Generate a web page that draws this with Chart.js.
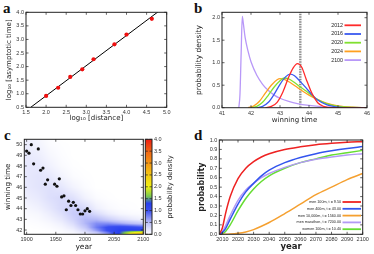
<!DOCTYPE html>
<html>
<head>
<meta charset="utf-8">
<script src="https://cdn.jsdelivr.net/npm/chart.js@4.4.1/dist/chart.umd.min.js"></script>
<style>
body { margin: 0; background: #fff; width: 374px; height: 254px; position: relative; overflow: hidden; }
canvas { position: absolute; }
.lab { position: absolute; font: bold 15px "Liberation Serif", serif; line-height: 1; color: #111; }
</style>
</head>
<body>
<div class="lab" style="left:3px;top:1px">a</div>
<div class="lab" style="left:194px;top:1px">b</div>
<div class="lab" style="left:4px;top:128px">c</div>
<div class="lab" style="left:194px;top:128px">d</div>
<canvas id="chartA" width="187" height="127" style="left:0;top:0"></canvas>
<canvas id="chartB" width="187" height="127" style="left:187px;top:0"></canvas>
<canvas id="chartC" width="187" height="127" style="left:0;top:127px"></canvas>
<canvas id="chartBar" width="47" height="127" style="left:140px;top:127px"></canvas>
<canvas id="chartD" width="187" height="127" style="left:187px;top:127px"></canvas>
<script>
// ---- panel a: asymptotic time vs distance
const logDistance = [2.0, 2.3, 2.6, 2.9, 3.18, 3.7, 4.0, 4.63];
const logAsymTime = [0.92, 1.22, 1.62, 1.9, 2.27, 2.82, 3.18, 3.76];
const fitX = [1.6, 4.85];
const fitY = [0.48, 4.09];
const aTicksX = [1.5, 2.0, 2.5, 3.0, 3.5, 4.0, 4.5, 5.0];
const aTicksY = [0.5, 1.0, 1.5, 2.0, 2.5, 3.0, 3.5, 4.0];

// ---- panel b: winning time densities
const bLabels = ['2012', '2016', '2020', '2024', '2100'];
const b2012Time = [42.5, 42.7, 42.9, 43.1, 43.3, 43.45, 43.6, 43.75, 43.9, 44.1, 44.3, 44.5, 44.8, 46.0];
const b2012Dens = [0, 0.03, 0.12, 0.35, 0.68, 0.88, 0.98, 0.9, 0.64, 0.32, 0.11, 0.03, 0, 0];
const b2016Time = [42.2, 42.4, 42.6, 42.8, 43.0, 43.2, 43.35, 43.5, 43.7, 43.9, 44.1, 44.3, 44.6, 45.0, 45.4, 46.0];
const b2016Dens = [0, 0.03, 0.12, 0.3, 0.52, 0.69, 0.745, 0.71, 0.58, 0.44, 0.29, 0.17, 0.07, 0.015, 0, 0];
const b2020Time = [42.0, 42.2, 42.4, 42.6, 42.8, 43.0, 43.15, 43.3, 43.5, 43.7, 43.9, 44.1, 44.3, 44.6, 45.0, 45.5, 46.0];
const b2020Dens = [0, 0.03, 0.12, 0.28, 0.46, 0.6, 0.66, 0.64, 0.56, 0.46, 0.37, 0.27, 0.18, 0.09, 0.03, 0.005, 0];
const b2024Time = [41.9, 42.1, 42.3, 42.5, 42.7, 42.9, 43.0, 43.15, 43.35, 43.6, 43.8, 44.0, 44.3, 44.6, 45.0, 45.5, 46.0];
const b2024Dens = [0, 0.04, 0.15, 0.33, 0.5, 0.62, 0.645, 0.63, 0.56, 0.45, 0.36, 0.28, 0.18, 0.1, 0.04, 0.01, 0];
const b2100Time = [41.58, 41.62, 41.66, 41.7, 41.74, 41.8, 41.9, 42.0, 42.2, 42.4, 42.6, 42.8, 43.0, 43.3, 43.6, 44.0, 44.5, 45.0, 45.5, 46.0];
const b2100Dens = [0, 0.3, 1.2, 2.03, 1.85, 1.55, 1.25, 1.02, 0.72, 0.52, 0.38, 0.28, 0.21, 0.14, 0.09, 0.05, 0.02, 0.01, 0.004, 0];
const bColors = ['#ff2a2a', '#3a5af0', '#80e030', '#ffa020', '#b898f8'];
const markTime = 43.7;
const bTicksX = [41, 42, 43, 44, 45, 46];
const bTicksY = [0, 0.5, 1.0, 1.5, 2.0];

// ---- panel c: olympic winning times + density map
const olympicYears = [1900, 1904, 1908, 1912, 1920, 1924, 1928, 1932, 1936, 1948, 1952, 1956, 1960, 1964, 1968,
  1972, 1976, 1980, 1984, 1988, 1992, 1996, 2000, 2004, 2008];
const olympicTimes = [49.4, 49.2, 50.0, 48.2, 49.6, 47.6, 47.8, 46.3, 46.7, 46.3, 46.1, 46.8, 45.1, 45.2, 43.9,
  44.7, 44.3, 44.6, 44.3, 43.9, 43.5, 43.5, 43.8, 44.0, 43.75];
const heatYears = [1900, 1920, 1940, 1960, 1980, 2000, 2020, 2040, 2060, 2080, 2100];
const heatLevels = [41.7, 41.95, 42.25, 42.6, 43.0, 43.5, 44.0, 45.0, 46.0, 47.0, 48.0, 49.0, 50.0, 50.5];
const heatDensity = [
  [0, 0, 0, 0.01, 0.02, 0.04, 0.06, 0.12, 0.16, 0.17, 0.17, 0.16, 0.14, 0.12],
  [0, 0, 0.01, 0.02, 0.04, 0.06, 0.1, 0.16, 0.2, 0.2, 0.17, 0.13, 0.09, 0.07],
  [0, 0.01, 0.03, 0.05, 0.09, 0.13, 0.18, 0.24, 0.23, 0.17, 0.1, 0.06, 0.03, 0.02],
  [0.02, 0.04, 0.07, 0.11, 0.17, 0.23, 0.28, 0.28, 0.18, 0.09, 0.04, 0.02, 0.01, 0],
  [0.05, 0.1, 0.17, 0.25, 0.33, 0.38, 0.36, 0.22, 0.09, 0.03, 0.01, 0, 0, 0],
  [0.15, 0.28, 0.42, 0.52, 0.52, 0.42, 0.28, 0.1, 0.03, 0.01, 0, 0, 0, 0],
  [0.35, 0.65, 0.8, 0.72, 0.5, 0.27, 0.12, 0.03, 0, 0, 0, 0, 0, 0],
  [0.75, 1.05, 1.05, 0.72, 0.36, 0.14, 0.05, 0.01, 0, 0, 0, 0, 0, 0],
  [1.35, 1.3, 1.15, 0.62, 0.24, 0.07, 0.02, 0, 0, 0, 0, 0, 0, 0],
  [2.1, 1.35, 1.1, 0.5, 0.16, 0.04, 0.01, 0, 0, 0, 0, 0, 0, 0],
  [2.6, 1.35, 1.0, 0.4, 0.1, 0.03, 0, 0, 0, 0, 0, 0, 0, 0]
];
const heatStops = [0, 0.5, 1.0, 1.3, 1.6, 2.0, 2.5, 3.0, 3.5, 4.0];
const heatColors = [[255,255,255], [184,188,248], [60,80,240], [40,64,238], [120,200,80],
  [240,240,20], [244,200,20], [244,150,20], [240,100,20], [238,30,20]];
const cTicksX = [1900, 1950, 2000, 2050, 2100];
const cTicksY = [42, 43, 44, 45, 46, 47, 48, 49, 50];
const barTicks = [0, 0.5, 1.0, 1.5, 2.0, 2.5, 3.0, 3.5, 4.0];

// ---- panel d: probability of beating a time
const dYears = [2008, 2010, 2012, 2015, 2020, 2025, 2030, 2035, 2040, 2050, 2060, 2070, 2080, 2090, 2100];
const dMen100 = [0, 0.07, 0.22, 0.4, 0.59, 0.7, 0.77, 0.82, 0.855, 0.9, 0.928, 0.95, 0.965, 0.976, 0.982];
const dMen400 = [0, 0.02, 0.06, 0.16, 0.32, 0.45, 0.54, 0.62, 0.68, 0.76, 0.815, 0.855, 0.885, 0.91, 0.93];
const dMen10000 = [0, 0, 0, 0.002, 0.01, 0.025, 0.05, 0.085, 0.125, 0.22, 0.32, 0.42, 0.5, 0.58, 0.645];
const dMarathon = [0, 0.03, 0.09, 0.2, 0.36, 0.47, 0.54, 0.6, 0.645, 0.71, 0.76, 0.795, 0.82, 0.84, 0.855];
const dWomen = [0, 0.005, 0.03, 0.1, 0.25, 0.38, 0.48, 0.56, 0.62, 0.7, 0.76, 0.8, 0.84, 0.865, 0.89];
const dLabels = ['men 100m, t = 9.50', 'men 400m, t = 43.00', 'men 10,000m, t = 1560.00',
  'men marathon, t = 7200.00', 'women 100m, t = 10.40'];
const dColors = ['#ee2222', '#3355ee', '#f5a030', '#b39af5', '#66dd33'];
const dTicksX = [2010, 2020, 2030, 2040, 2050, 2060, 2070, 2080, 2090, 2100];
const dTicksY = [0, 0.1, 0.2, 0.3, 0.4, 0.5, 0.6, 0.7, 0.8, 0.9, 1.0];

const W = 187, H = 127;
const tickFont = {family: 'Liberation Sans', size: 5.5};
Chart.defaults.color = '#333';

function pts(xs, ys) { return xs.map((x, i) => ({x: x, y: ys[i]})); }

// frame + inward tick marks
const frameTicks = {
  id: 'frameTicks',
  afterDatasetsDraw(chart) {
    const {ctx, chartArea: a, scales} = chart;
    ctx.save();
    ctx.strokeStyle = '#222';
    ctx.lineWidth = 0.7;
    for (const s of Object.values(scales)) {
      if (!s.options.display) continue;
      for (const t of s.ticks) {
        const p = s.getPixelForValue(t.value);
        ctx.beginPath();
        if (s.isHorizontal()) {
          ctx.moveTo(p, a.bottom); ctx.lineTo(p, a.bottom - 2.5);
          ctx.moveTo(p, a.top); ctx.lineTo(p, a.top + 2.5);
        } else {
          ctx.moveTo(a.left, p); ctx.lineTo(a.left + 2.5, p);
          ctx.moveTo(a.right, p); ctx.lineTo(a.right - 2.5, p);
        }
        ctx.stroke();
      }
    }
    ctx.lineWidth = 1;
    ctx.strokeRect(a.left, a.top, a.width, a.height);
    ctx.restore();
  }
};

// small line legend drawn in canvas coords
const lineKey = {
  id: 'lineKey',
  afterDraw(chart, args, o) {
    if (!o.labels) return;
    const ctx = chart.ctx;
    ctx.save();
    ctx.font = o.size + 'px "Liberation Sans"';
    ctx.textAlign = 'right';
    ctx.textBaseline = 'middle';
    o.labels.forEach((lab, i) => {
      const y = o.y0 + i * o.dy;
      ctx.fillStyle = '#222';
      ctx.fillText(lab, o.x, y);
      ctx.strokeStyle = o.colors[i];
      ctx.lineWidth = 1.8;
      ctx.beginPath();
      ctx.moveTo(o.x + 1.5, y); ctx.lineTo(o.x2, y);
      ctx.stroke();
    });
    ctx.restore();
  }
};

function axis(min, max, ticks, fmt, fit, title) {
  return {
    type: 'linear', min: min, max: max,
    grid: {display: false, drawTicks: false},
    border: {display: false},
    ticks: {font: tickFont, padding: 2, autoSkip: false, maxRotation: 0, callback: fmt},
    afterBuildTicks: s => { s.ticks = ticks.map(v => ({value: v})); },
    afterFit: fit,
    title: title ? {display: true, text: title.text, padding: 0,
      font: {family: 'DejaVu Sans', size: title.size, weight: title.bold ? 'bold' : 'normal', lineHeight: 1},
      color: '#222'} : {display: false}
  };
}
const f1 = v => v.toFixed(1);
const f0 = v => String(v);

function baseOpts(area, padL, padB, scales, extra) {
  return Object.assign({
    responsive: false, animation: false,
    layout: {padding: {left: padL, top: area[1], right: W - area[2], bottom: padB}},
    plugins: {legend: {display: false}, tooltip: {enabled: false}},
    scales: scales
  }, extra || {});
}

// ---------- a
(function () {
  const area = [26, 12.3, 166.7, 107.3], padL = 5.5, padB = 5;
  new Chart(document.getElementById('chartA'), {
    type: 'scatter',
    data: {datasets: [
      {data: pts(logDistance, logAsymTime), backgroundColor: '#f01010', borderWidth: 0, pointRadius: 2.1},
      {type: 'line', data: pts(fitX, fitY), borderColor: '#000', borderWidth: 1, pointRadius: 0}
    ]},
    options: baseOpts(area, padL, padB, {
      x: axis(1.5, 5.0, aTicksX, f1, s => { s.height = H - padB - area[3]; }, {text: 'log\u2081\u2080 [distance]', size: 7}),
      y: axis(0.5, 4.0, aTicksY, f1, s => { s.width = area[0] - padL; }, {text: 'log\u2081\u2080 [asymptotic time]', size: 7})
    }),
    plugins: [frameTicks]
  });
})();

// ---------- b
(function () {
  const area = [35, 12.3, 180, 107.7], padL = 8.3, padB = 3.8;
  const series = [[b2012Time, b2012Dens], [b2016Time, b2016Dens], [b2020Time, b2020Dens], [b2024Time, b2024Dens], [b2100Time, b2100Dens]];
  const sets = series.map((s, i) => ({
    label: bLabels[i], data: pts(s[0], s[1]), borderColor: bColors[i], borderWidth: 1.3,
    pointRadius: 0, cubicInterpolationMode: 'monotone'
  }));
  sets.push({data: pts([markTime, markTime], [0, 2.2]), borderColor: '#8a8a8a', borderWidth: 2.4,
    borderDash: [1.5, 1], pointRadius: 0});
  new Chart(document.getElementById('chartB'), {
    type: 'line',
    data: {datasets: sets},
    options: baseOpts(area, padL, padB, {
      x: axis(41, 46, bTicksX, f0, s => { s.height = H - padB - area[3]; }, {text: 'winning time', size: 7}),
      y: axis(0, 2.12, bTicksY, f1, s => { s.width = area[0] - padL; }, {text: 'probability density', size: 7.5})
    }, {plugins: {legend: {display: false}, tooltip: {enabled: false},
      lineKey: {labels: bLabels, colors: bColors, x: 156, x2: 174, y0: 25.3, dy: 8.7, size: 5.3}}}),
    plugins: [frameTicks, lineKey]
  });
})();

// ---------- c
function heatColor(v) {
  if (v <= heatStops[0]) return heatColors[0];
  for (let k = 1; k < heatStops.length; k++) {
    if (v <= heatStops[k]) {
      const f = (v - heatStops[k - 1]) / (heatStops[k] - heatStops[k - 1]);
      const c0 = heatColors[k - 1], c1 = heatColors[k];
      return [0, 1, 2].map(i => c0[i] + (c1[i] - c0[i]) * f);
    }
  }
  return heatColors[heatColors.length - 1];
}
function seg(arr, v) {
  if (v <= arr[0]) return [0, 0];
  for (let k = 1; k < arr.length; k++) {
    if (v <= arr[k]) return [k - 1, (v - arr[k - 1]) / (arr[k] - arr[k - 1])];
  }
  return [arr.length - 2, 1];
}
function heatAt(year, level) {
  const [i, fx] = seg(heatYears, year);
  const [j, fy] = seg(heatLevels, level);
  const d = heatDensity;
  const lo = d[i][j] * (1 - fx) + d[i + 1][j] * fx;
  const hi = d[i][j + 1] * (1 - fx) + d[i + 1][j + 1] * fx;
  return lo * (1 - fy) + hi * fy;
}
const heatLayer = {
  id: 'heatLayer',
  beforeDatasetsDraw(chart) {
    const {ctx, chartArea: a, scales: {x, y}} = chart;
    const x0 = Math.round(a.left), y0 = Math.round(a.top);
    const w = Math.round(a.right) - x0, h = Math.round(a.bottom) - y0;
    const img = ctx.createImageData(w, h);
    for (let r = 0; r < h; r++) {
      const lv = y.getValueForPixel(y0 + r + 0.5);
      for (let c = 0; c < w; c++) {
        const col = heatColor(heatAt(x.getValueForPixel(x0 + c + 0.5), lv));
        const k = (r * w + c) * 4;
        img.data[k] = col[0]; img.data[k + 1] = col[1]; img.data[k + 2] = col[2]; img.data[k + 3] = 255;
      }
    }
    ctx.putImageData(img, x0, y0);
  }
};
(function () {
  const area = [24.3, 12.3, 143.3, 107.3], padL = 5, padB = 3.3;
  new Chart(document.getElementById('chartC'), {
    type: 'scatter',
    data: {datasets: [{data: pts(olympicYears, olympicTimes), backgroundColor: '#111', borderWidth: 0, pointRadius: 1.6}]},
    options: baseOpts(area, padL, padB, {
      x: axis(1896, 2100, cTicksX, f0, s => { s.height = H - padB - area[3]; }, {text: 'year', size: 7.5}),
      y: axis(41.6, 50.5, cTicksY, f0, s => { s.width = area[0] - padL; }, {text: 'winning time', size: 7.2})
    }),
    plugins: [heatLayer, frameTicks]
  });
})();

// colour bar
const barLayer = {
  id: 'barLayer',
  beforeDatasetsDraw(chart) {
    const {ctx, chartArea: a, scales: {y}} = chart;
    for (let p = Math.floor(a.top); p < a.bottom; p++) {
      const c = heatColor(y.getValueForPixel(p + 0.5));
      ctx.fillStyle = 'rgb(' + c.map(Math.round).join(',') + ')';
      ctx.fillRect(a.left, p, a.width, 1);
    }
  },
  afterDraw(chart) {
    const ctx = chart.ctx;
    ctx.save();
    ctx.translate(30, (chart.chartArea.top + chart.chartArea.bottom) / 2);
    ctx.rotate(-Math.PI / 2);
    ctx.font = '6.8px "DejaVu Sans"';
    ctx.fillStyle = '#222';
    ctx.textAlign = 'center';
    ctx.textBaseline = 'middle';
    ctx.fillText('probability density', 0, 0);
    ctx.restore();
  }
};
(function () {
  const bw = 47;
  new Chart(document.getElementById('chartBar'), {
    type: 'scatter',
    data: {datasets: [{data: []}]},
    options: {
      responsive: false, animation: false,
      layout: {padding: {left: 5.3, top: 12.3, right: 0, bottom: H - 107.3}},
      plugins: {legend: {display: false}, tooltip: {enabled: false}},
      scales: {
        x: {display: false, min: 0, max: 1},
        y: Object.assign(axis(0, 4, barTicks, f1, s => { s.width = bw - 12; }), {position: 'right'})
      }
    },
    plugins: [barLayer, frameTicks]
  });
})();

// ---------- d
(function () {
  const area = [32.3, 13, 175.7, 107.3], padL = 11, padB = 3.3;
  const series = [dMen100, dMen400, dMen10000, dMarathon, dWomen];
  const sets = series.map((s, i) => ({
    label: dLabels[i], data: pts(dYears, s), borderColor: dColors[i], borderWidth: 1.5,
    pointRadius: 0, cubicInterpolationMode: 'monotone'
  }));
  new Chart(document.getElementById('chartD'), {
    type: 'line',
    data: {datasets: sets},
    options: baseOpts(area, padL, padB, {
      x: axis(2008, 2100, dTicksX, f0, s => { s.height = H - padB - area[3]; }, {text: 'year', size: 8.5, bold: true}),
      y: axis(0, 1, dTicksY, f1, s => { s.width = area[0] - padL; }, {text: 'probability', size: 8, bold: true})
    }, {plugins: {legend: {display: false}, tooltip: {enabled: false},
      lineKey: {labels: dLabels, colors: dColors, x: 154, x2: 174, y0: 75, dy: 6.8, size: 3.7}}}),
    plugins: [frameTicks, lineKey]
  });
})();
</script>
</body>
</html>
